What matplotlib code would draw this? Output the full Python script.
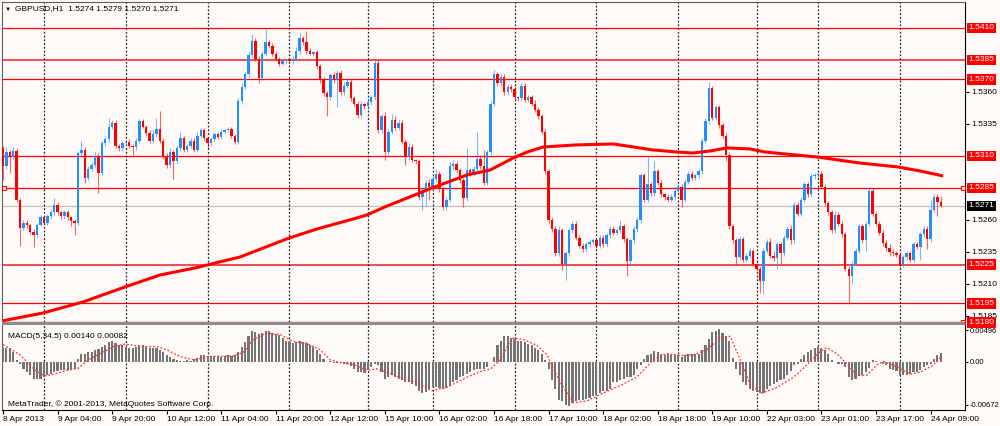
import numpy as np
import matplotlib.pyplot as plt
import matplotlib.transforms as mtransforms
from matplotlib.patches import Rectangle

plt.rcParams['font.family'] = ['Liberation Sans', 'DejaVu Sans']

# prices are stored as pips above 1.5000, MACD values in units of 0.0001
BASE = 1.5
first_open = 316
close_pips = [
    302, 313, 309, 314, 276, 254, 258, 256, 251, 248, 256, 262, 258, 263, 266, 272,
    266, 263, 266, 262, 259, 258, 312, 315, 293, 300, 303, 310, 297, 320, 323, 333,
    336, 318, 316, 320, 321, 318, 317, 322, 337, 333, 328, 322, 327, 331, 322, 310,
    303, 313, 306, 316, 324, 315, 318, 322, 315, 326, 330, 324, 320, 323, 327, 325,
    329, 330, 331, 326, 321, 353, 364, 374, 389, 400, 386, 371, 390, 399, 396, 390,
    386, 382, 384, 385, 384, 386, 392, 402, 399, 392, 390, 391, 380, 370, 359, 356,
    373, 369, 375, 360, 365, 368, 355, 351, 342, 351, 349, 352, 356, 383, 330, 341,
    313, 329, 338, 332, 336, 321, 309, 317, 307, 306, 278, 283, 289, 286, 292, 296,
    284, 270, 276, 302, 304, 299, 291, 277, 299, 296, 300, 308, 302, 289, 313, 351,
    374, 367, 372, 360, 364, 362, 356, 355, 365, 354, 356, 351, 346, 341, 329, 298,
    260, 253, 234, 252, 226, 234, 252, 257, 246, 240, 237, 241, 243, 244, 240, 246,
    241, 248, 253, 250, 252, 255, 245, 228, 244, 253, 260, 295, 276, 288, 281, 298,
    289, 280, 278, 276, 278, 283, 286, 276, 290, 296, 293, 295, 298, 322, 337, 363,
    340, 348, 334, 326, 311, 255, 244, 231, 245, 229, 232, 236, 226, 222, 212, 236,
    243, 232, 230, 241, 234, 246, 253, 244, 272, 265, 276, 288, 280, 294, 295, 296,
    286, 273, 266, 252, 264, 257, 249, 222, 216, 226, 236, 255, 244, 257, 283, 265,
    257, 250, 242, 238, 235, 234, 233, 225, 231, 234, 229, 241, 239, 249, 253, 245,
    268, 278, 274, 271,
]
wick_up = [
    2, 4, 2, 3, 2, 1, 2, 2, 1, 2, 2, 2, 1, 2, 2, 5,
    2, 1, 2, 2, 1, 2, 2, 7, 2, 2, 2, 3, 2, 2, 2, 7,
    2, 2, 1, 2, 1, 2, 1, 2, 2, 2, 1, 2, 3, 9, 14, 2,
    2, 3, 2, 2, 5, 2, 1, 2, 2, 3, 2, 2, 1, 2, 2, 2,
    2, 1, 2, 2, 1, 2, 3, 2, 3, 5, 2, 2, 2, 10, 2, 2,
    2, 1, 2, 1, 2, 2, 3, 4, 2, 9, 2, 1, 2, 2, 2, 2,
    2, 3, 2, 2, 3, 2, 2, 2, 2, 2, 1, 2, 2, 2, 2, 2,
    3, 2, 5, 3, 2, 2, 2, 3, 2, 1, 2, 2, 2, 3, 2, 4,
    2, 2, 2, 3, 3, 2, 2, 2, 17, 2, 2, 21, 2, 13, 2, 2,
    3, 2, 2, 2, 2, 2, 2, 1, 2, 2, 2, 2, 3, 2, 2, 2,
    2, 2, 2, 3, 2, 2, 2, 2, 2, 2, 2, 2, 2, 2, 1, 2,
    2, 2, 2, 2, 2, 5, 2, 2, 2, 2, 2, 2, 2, 23, 2, 8,
    2, 2, 1, 2, 2, 3, 2, 2, 2, 2, 2, 1, 2, 2, 3, 5,
    2, 2, 2, 2, 2, 2, 2, 2, 2, 2, 2, 2, 1, 2, 2, 2,
    2, 3, 4, 2, 2, 2, 2, 3, 2, 2, 2, 2, 2, 3, 2, 2,
    2, 2, 2, 2, 3, 2, 2, 2, 2, 2, 2, 2, 2, 2, 3, 2,
    2, 2, 2, 2, 3, 2, 2, 2, 2, 2, 2, 2, 2, 2, 2, 2,
    8, 2, 2, 5,
]
wick_dn = [
    11, 2, 12, 2, 2, 14, 2, 2, 2, 9, 2, 1, 2, 2, 2, 2,
    2, 2, 2, 2, 4, 10, 2, 2, 4, 2, 2, 2, 16, 2, 2, 2,
    2, 2, 2, 2, 2, 2, 6, 2, 2, 1, 2, 2, 2, 2, 2, 2,
    2, 2, 14, 2, 2, 2, 2, 2, 2, 2, 2, 2, 4, 2, 1, 2,
    2, 2, 1, 2, 2, 2, 2, 2, 2, 2, 2, 4, 2, 2, 2, 2,
    2, 2, 1, 2, 1, 2, 2, 2, 2, 2, 1, 2, 2, 3, 2, 15,
    2, 2, 21, 2, 2, 2, 2, 2, 2, 2, 2, 2, 2, 2, 2, 2,
    6, 2, 2, 2, 2, 2, 6, 2, 2, 2, 2, 10, 12, 10, 2, 2,
    2, 2, 2, 2, 2, 2, 2, 7, 2, 2, 2, 2, 2, 2, 2, 2,
    2, 2, 2, 2, 2, 2, 2, 2, 2, 2, 2, 2, 2, 2, 2, 2,
    2, 2, 2, 2, 5, 13, 2, 2, 2, 2, 2, 2, 2, 2, 2, 2,
    2, 2, 2, 2, 2, 2, 2, 12, 2, 2, 2, 2, 2, 2, 2, 2,
    2, 2, 2, 2, 2, 2, 2, 6, 2, 2, 2, 2, 2, 2, 2, 2,
    2, 2, 2, 2, 5, 2, 2, 6, 2, 2, 2, 2, 2, 2, 9, 10,
    2, 2, 2, 8, 8, 2, 2, 3, 2, 2, 2, 2, 2, 2, 2, 2,
    2, 2, 2, 2, 2, 2, 2, 2, 22, 5, 2, 2, 2, 8, 2, 2,
    2, 2, 2, 2, 3, 2, 2, 2, 2, 2, 2, 2, 2, 10, 2, 8,
    2, 2, 11, 1,
]

# moving average, read at a set of bars
ma_bar = [0, 11.7, 23.5, 35.8, 46, 56.3, 59.8, 69.5, 83.9, 92.1, 103.8, 106.7,
          112, 125.8, 136.1, 142.8, 149.6, 153.7, 158.4, 167.7, 178.9, 183,
          190.6, 197.7, 202.3, 207.3, 212.3, 219, 223.5, 238.7, 251.3, 262.5,
          268.9, 275.7]
ma_pips = [181.3, 187.3, 196, 207.7, 217, 222.5, 224.8, 231.1, 245.9, 253,
           261.6, 263.9, 270.2, 285, 295.2, 299, 308.4, 313.1, 317, 318.6,
           319.4, 317.8, 314.7, 313.1, 312.3, 313.9, 316.3, 315.5, 313.1,
           309.2, 304.5, 301.4, 298.3, 294.4]

macd_hist = [
    24, 22, 21, 16, 3, -3, -11, -16, -21, -26, -27, -26, -24, -21, -19, -16,
    -15, -13, -13, -12, -11, -11, 4, 13, 13, 15, 16, 19, 20, 24, 27, 31,
    32, 29, 27, 26, 24, 22, 22, 24, 26, 26, 24, 22, 22, 21, 19, 15,
    11, 8, 4, 3, 1, 1, 3, 1, 4, 6, 10, 10, 9, 8, 9, 9,
    8, 9, 10, 9, 11, 16, 24, 31, 40, 49, 47, 43, 45, 48, 48, 45,
    44, 42, 37, 33, 31, 29, 31, 32, 31, 29, 26, 24, 19, 13, 5, 0,
    1, -1, -1, -1, -3, -3, -6, -11, -16, -16, -17, -13, -8, -3, -5, -16,
    -27, -24, -21, -24, -27, -29, -32, -32, -35, -37, -45, -48, -47, -43, -40, -40,
    -41, -43, -41, -37, -32, -28, -24, -22, -19, -16, -13, -11, -11, -11, -8, 0,
    8, 26, 33, 40, 40, 38, 35, 33, 32, 31, 28, 26, 22, 19, 13, 3,
    -11, -29, -43, -59, -61, -67, -69, -64, -61, -60, -59, -58, -56, -54, -51, -48,
    -46, -45, -43, -32, -31, -29, -27, -24, -24, -21, -11, -5, 5, 11, 13, 17,
    15, 13, 11, 12, 11, 10, 11, 8, 10, 12, 13, 13, 13, 19, 26, 35,
    47, 49, 51, 45, 40, 32, 6, -11, -21, -32, -36, -43, -45, -47, -49, -48,
    -43, -38, -35, -32, -29, -27, -21, -15, -5, -3, 4, 10, 15, 19, 22, 24,
    21, 19, 13, 3, 0, -3, -3, -8, -24, -29, -27, -22, -20, -16, -10, 3,
    2, 0, -3, -5, -11, -13, -15, -21, -21, -20, -19, -16, -16, -13, -8, -5,
    -3, 5, 11, 14,
]
signal_bar = [0, 5, 9, 12, 15, 19, 22, 25, 28.5, 32.4, 36, 40, 45, 48, 52, 56,
              60, 63.6, 67.5, 70.5, 73.4, 77.3, 81.2, 85, 89, 93, 96, 98.8,
              102.7, 106.6, 109.6, 112.5, 116.4, 121.3, 125.7, 130.1, 136,
              140.5, 143, 145.8, 149.2, 152.6, 156.5, 159.5, 163.4, 167.3,
              171.2, 175.1, 181, 185.8, 190.7, 194.6, 198.5, 202.5, 206.4,
              210.3, 213.2, 216.1, 219.1, 222.5, 226.9, 231.8, 235.7, 239.6,
              241.6, 244.5, 247.4, 250.4, 253.3, 256.2, 258.2, 262.1, 266, 269,
              272.8, 275]
signal_val = [27, 11, -11, -22, -19, -13, -10, 3, 13, 24, 28, 24, 24, 19, 8, 3,
              8, 9, 9, 15, 35, 45, 43, 32, 29, 19, 3, -1, -4, -13, -11, -16,
              -24, -32, -45, -40, -24, -14, -11, 3, 37, 35, 26, 11, -32, -64,
              -61, -51, -37, -24, 3, 13, 10, 11, 19, 37, 40, 5, -35, -49, -40,
              -24, -5, 16, 22, 13, -3, -21, -21, -5, 1, -8, -19, -16, -5, 8]

day_starts = [12, 36, 60, 84, 107, 126, 150, 174, 198, 221, 239, 263]
date_ticks = [0, 16, 32, 48, 64, 80, 96, 112, 128, 144, 160, 176, 192, 208, 224,
              240, 256, 272]
date_labels = ['8 Apr 2013', '9 Apr 04:00', '9 Apr 20:00', '10 Apr 12:00',
               '11 Apr 04:00', '11 Apr 20:00', '12 Apr 12:00', '15 Apr 10:00',
               '16 Apr 02:00', '16 Apr 18:00', '17 Apr 10:00', '18 Apr 02:00',
               '18 Apr 18:00', '19 Apr 10:00', '22 Apr 03:00', '23 Apr 01:00',
               '23 Apr 17:00', '24 Apr 09:00']
levels = [1.5410, 1.5385, 1.5370, 1.5310, 1.5285, 1.5225, 1.5195, 1.5180]
soft_levels = [1.5385, 1.5225]
bid = 1.5271
price_ticks = [1.5360, 1.5335, 1.5260, 1.5235, 1.5210, 1.5185]
macd_ticks = [0.00496, 0.0, -0.00672]
macd_tick_labels = ['0.00496', '0.00', '-0.00672']

BG = '#fffaf7'
BULL = '#1e90ff'
BEAR = '#ff0000'
W, H = 1000, 426

fig = plt.figure(figsize=(W / 100, H / 100), dpi=100, facecolor=BG)
ax = fig.add_axes([2 / W, 1 - 322 / H, 963 / W, 320 / H], facecolor=BG)
axm = fig.add_axes([2 / W, 1 - 410 / H, 963 / W, 85 / H], facecolor=BG)

c = BASE + np.array(close_pips) / 1e4
o = np.r_[BASE + first_open / 1e4, c[:-1]]
hi = np.maximum(o, c) + np.array(wick_up) / 1e4
lo = np.minimum(o, c) - np.array(wick_dn) / 1e4
x = np.arange(len(c))
col = np.where(c >= o, BULL, BEAR)

xlim = (-0.29, 282.1)

# ---- price panel
for lv in levels:
    if lv in soft_levels:
        ax.axhline(lv, color='#f24c4c', lw=1.4, zorder=1)
    else:
        ax.axhline(lv, color='#ff0000', lw=0.9, zorder=1)
ax.axhline(bid, color='#c0c0c0', lw=0.9, zorder=1)
for d in day_starts:
    ax.axvline(d, color='#222222', lw=0.9, ls=(0, (1.5, 1.5)), zorder=2)
    axm.axvline(d, color='#222222', lw=0.9, ls=(0, (1.5, 1.5)), zorder=1)

ax.vlines(x, lo, hi, colors=col, lw=0.8, alpha=0.6, zorder=3)
ax.bar(x, np.maximum(np.abs(c - o), 0.00008), bottom=np.minimum(o, c),
       width=0.7, color=col, linewidth=0, zorder=4)
ax.plot(ma_bar, BASE + np.array(ma_pips) / 1e4, color='#ff0000', lw=2.2,
        zorder=5, solid_capstyle='butt')

ax.set_xlim(*xlim)
ax.set_ylim(BASE + 180.3 / 1e4, BASE + 430.3 / 1e4)
ax.set_xticks([])
ax.yaxis.tick_right()
ax.set_yticks(price_ticks)
ax.set_yticklabels([f'{v:.4f}' for v in price_ticks])
ax.tick_params(axis='y', length=3, width=0.8, pad=1.5, labelsize=6,
               direction='out')
for s in ('left', 'top'):
    ax.spines[s].set_color('#606060')
    ax.spines[s].set_linewidth(0.8)
ax.spines['right'].set_color('black')
ax.spines['right'].set_linewidth(0.8)
ax.spines['bottom'].set_visible(False)

trans = mtransforms.blended_transform_factory(ax.transAxes, ax.transData)
for lv in levels:
    ax.text(1.0035, lv, f'{lv:.4f}', transform=trans, ha='left', va='center',
            fontsize=6, color='white', clip_on=False, zorder=10,
            bbox=dict(boxstyle='square,pad=0.22', fc='#ff0000', ec='none'))
ax.text(1.0035, bid, f'{bid:.4f}', transform=trans, ha='left', va='center',
        fontsize=6, color='white', clip_on=False, zorder=10,
        bbox=dict(boxstyle='square,pad=0.22', fc='black', ec='none'))
ax.plot([0.002, 0.998], [1.5285, 1.5285], 's', transform=trans, ms=3.2,
        mfc=BG, mec='#ff0000', mew=0.8, clip_on=False, zorder=6)
ax.plot([0.998], [1.5180], 's', transform=trans, ms=3.2,
        mfc=BG, mec='#ff0000', mew=0.8, clip_on=False, zorder=6)

fig.text(5 / W, 1 - 9 / H, '▼', fontsize=4.5, va='center')
fig.text(15 / W, 1 - 9 / H, 'GBPUSD,H1  1.5274 1.5279 1.5270 1.5271',
         fontsize=6, va='center')

# separator between panels
fig.add_artist(Rectangle((2 / W, 1 - 325 / H), 963 / W, 3 / H,
                         transform=fig.transFigure, fc='#8c8c8c', ec='none'))

# ---- MACD panel
axm.bar(x, np.array(macd_hist) / 1e4, width=0.62, color='#747474',
        linewidth=0, zorder=3)
axm.plot(signal_bar, np.array(signal_val) / 1e4, color='#ff3030', lw=0.9,
         ls=(0, (1.5, 1.5)), zorder=4)
axm.set_xlim(*xlim)
axm.set_ylim(-0.00752, 0.00576)
axm.yaxis.tick_right()
axm.set_yticks(macd_ticks)
axm.set_yticklabels(macd_tick_labels)
axm.tick_params(axis='y', length=2.5, width=0.8, pad=0.8, labelsize=5.5,
                direction='out')
axm.set_xticks(date_ticks)
axm.set_xticklabels(date_labels)
for lab in axm.get_xticklabels():
    lab.set_horizontalalignment('left')
axm.tick_params(axis='x', length=3, width=0.8, pad=1.5, labelsize=6,
                direction='out')
axm.spines['top'].set_visible(False)
axm.spines['left'].set_color('#606060')
axm.spines['left'].set_linewidth(0.8)
for s in ('right', 'bottom'):
    axm.spines[s].set_color('black')
    axm.spines[s].set_linewidth(0.8)

axm.text(6 / 963, 1 - 12 / 85, 'MACD(5,34,5) 0.00140 0.00082',
         transform=axm.transAxes, fontsize=6, va='center')
axm.text(6 / 963, 6 / 85, 'MetaTrader, © 2001-2013, MetaQuotes Software Corp.',
         transform=axm.transAxes, fontsize=6, va='center')

fig.savefig('out.png', dpi=100, facecolor=BG)
